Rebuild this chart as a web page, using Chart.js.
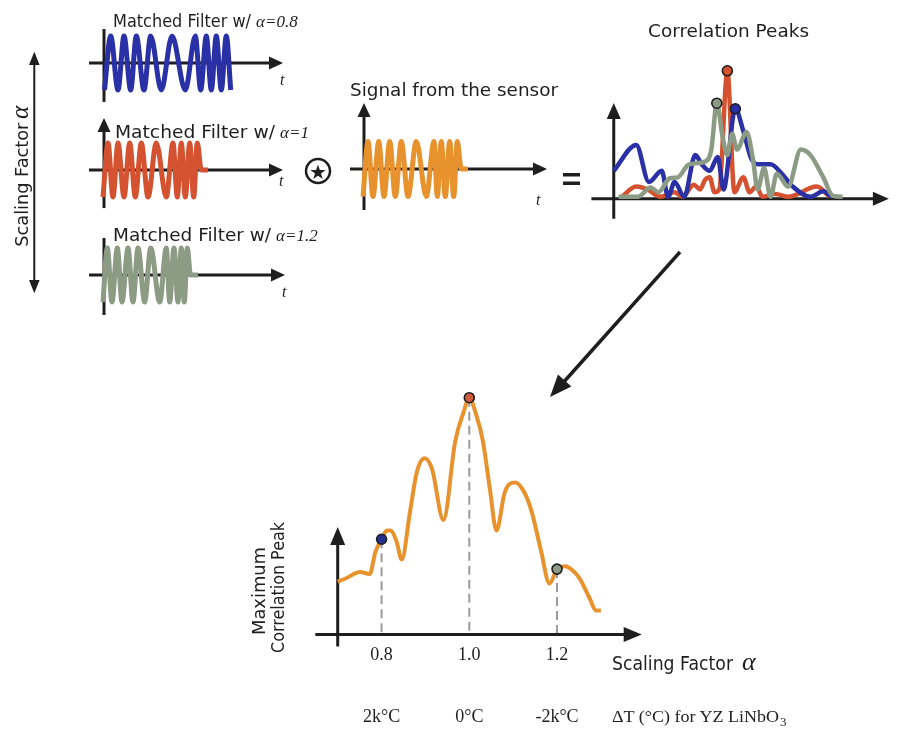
<!DOCTYPE html>
<html>
<head>
<meta charset="utf-8">
<script src="https://cdn.jsdelivr.net/npm/chart.js@4.4.1/dist/chart.umd.min.js"></script>
<style>
  html, body { margin: 0; padding: 0; background: #fff; }
  #stage { position: relative; width: 906px; height: 733px; overflow: hidden; background: #fff; }
  #stage canvas { position: absolute; }
  #overlay { position: absolute; left: 0; top: 0; pointer-events: none; }
  .sans { font-family: "DejaVu Sans", sans-serif; fill: #1e1e1e; }
  .serif { font-family: "Liberation Serif", "Times New Roman", serif; fill: #1e1e1e; }
</style>
</head>
<body>
<div id="stage">
  <canvas id="blueChart"></canvas>
  <canvas id="redChart"></canvas>
  <canvas id="greenChart"></canvas>
  <canvas id="sensorChart"></canvas>
  <canvas id="corrChart"></canvas>
  <canvas id="mainChart"></canvas>

  <svg id="overlay" width="906" height="733">
    <!-- left double arrow -->
    <line x1="34.3" y1="62" x2="34.3" y2="283" stroke="#1e1e1e" stroke-width="2"/>
    <polygon points="34.3,51.7 29,65 39.6,65" fill="#1e1e1e"/>
    <polygon points="34.3,293.3 29,280 39.6,280" fill="#1e1e1e"/>
    <text class="sans" font-size="17" transform="translate(28,246.7) rotate(-90)" textLength="124" lengthAdjust="spacingAndGlyphs">Scaling Factor</text>
    <text class="serif" font-size="25" font-style="italic" transform="translate(28,119) rotate(-90)">α</text>

    <!-- filter titles -->
    <text class="sans" x="113" y="27" font-size="17" textLength="138" lengthAdjust="spacingAndGlyphs">Matched Filter w/</text>
    <text class="serif" x="256" y="27" font-size="17" font-style="italic">α=0.8</text>
    <text class="sans" x="115" y="138" font-size="17" textLength="160" lengthAdjust="spacingAndGlyphs">Matched Filter w/</text>
    <text class="serif" x="280" y="138" font-size="17" font-style="italic">α=1</text>
    <text class="sans" x="113" y="241" font-size="17" textLength="158" lengthAdjust="spacingAndGlyphs">Matched Filter w/</text>
    <text class="serif" x="276" y="241" font-size="17" font-style="italic">α=1.2</text>

    <text class="serif" x="280" y="85" font-size="16" font-style="italic">t</text>
    <text class="serif" x="279" y="186" font-size="16" font-style="italic">t</text>
    <text class="serif" x="282" y="297" font-size="16" font-style="italic">t</text>
    <text class="serif" x="536" y="205" font-size="16" font-style="italic">t</text>

    <!-- convolution and equals -->
    <circle cx="318" cy="171" r="12" fill="none" stroke="#1e1e1e" stroke-width="2.5"/>
    <text class="sans" x="318" y="178.5" font-size="20" text-anchor="middle">★</text>
    <rect x="563" y="173" width="17" height="3.5" fill="#1e1e1e"/>
    <rect x="563" y="181.5" width="17" height="3.5" fill="#1e1e1e"/>

    <text class="sans" x="350" y="96" font-size="17" textLength="208" lengthAdjust="spacingAndGlyphs">Signal from the sensor</text>
    <text class="sans" x="648" y="37" font-size="17" textLength="161" lengthAdjust="spacingAndGlyphs">Correlation Peaks</text>

    <!-- big arrow -->
    <line x1="680" y1="252" x2="562" y2="384" stroke="#1e1e1e" stroke-width="3.5"/>
    <polygon points="550,397 571.4,386.6 558,374.6" fill="#1e1e1e"/>

    <!-- bottom chart titles -->
    <text class="sans" font-size="17" transform="translate(265,635) rotate(-90)" textLength="88" lengthAdjust="spacingAndGlyphs">Maximum</text>
    <text class="sans" font-size="17" transform="translate(284,653) rotate(-90)" textLength="131" lengthAdjust="spacingAndGlyphs">Correlation Peak</text>
    <text class="sans" x="612" y="670" font-size="19" textLength="121" lengthAdjust="spacingAndGlyphs">Scaling Factor</text>
    <text class="serif" x="742" y="670" font-size="26" font-style="italic">α</text>
    <text class="serif" x="612" y="722" font-size="17" textLength="167" lengthAdjust="spacingAndGlyphs">ΔT (°C) for YZ LiNbO</text>
    <text class="serif" x="780" y="726" font-size="13">3</text>
  </svg>
</div>

<script>
// matched filter waveforms: time of each crest/trough (t=0 at the vertical axis), normalised amplitude
const blueT = [0.5, 6.7, 14, 20, 26.7, 32.3, 40, 46.7, 57.3, 68, 81.3, 91.3, 96.7, 102.3, 107.3, 112.3, 117.3, 122.3, 126.7];
const blueV = [-1, 1, -1, 1, -1, 1, -1, 1, -1, 1, -1, 1, -1, 1, -1, 1, -1, 1, -1];

const redT = [-1, 4, 9, 14, 20, 25.7, 31.3, 37.3, 44, 52.3, 62.3, 69, 73.3, 77.3, 81.3, 85.7, 89.7, 93.3, 97.3, 104];
const redV = [-1, 1, -1, 1, -1, 1, -1, 1, -1, 1, -1, 1, -1, 1, -1, 1, -1, 1, 0, 0];

const greenT = [-1, 3.3, 8, 13.3, 18, 24, 29, 34, 40.7, 46.7, 55.7, 62.3, 65.7, 70, 74, 77.3, 80.3, 83.3, 86.5, 94];
const greenV = [-1, 1, -1, 1, -1, 1, -1, 1, -1, 1, -1, 1, -1, 1, -1, 1, -1, 1, 0, 0];

const sensorT = [-1, 4, 9, 14.7, 20, 25.7, 31.3, 37.3, 44, 52.3, 62.3, 70, 73.3, 77.3, 81.3, 85.7, 89.7, 93.3, 97.3, 104];
const sensorV = [-1, 1, -1, 1, -1, 1, -1, 1, -1, 1, -1, 1, -1, 1, -1, 1, -1, 1, 0, 0];

// correlation outputs (lag, amplitude)
const corrBlueT = [0, 23.4, 36.7, 50, 56.7, 63.4, 73.4, 85, 91.7, 100, 108.4, 114.4, 126.7, 135, 143.4, 151.7, 163.4, 175, 186.7, 205, 218.4, 226.7];
const corrBlueV = [30, 58, 18, 30, 2, 18, 2, 47, 37, 30, 45, 10, 97, 73, 43, 37, 37, 27, 13, 2, 8, 2];

const corrRedT = [8.4, 23.4, 35, 48.4, 63.4, 71.7, 83.4, 90, 95, 100, 105, 110, 118.4, 125.7, 135, 141.7, 148.4, 155, 168.4, 181.7, 211.7, 225];
const corrRedV = [2, 13, 10, 2, 7, 2, 15, 10, 20, 23, 7, 10, 138, 7, 23, 7, 13, 2, 5, 2, 13, 2];

const corrGreyT = [5, 25, 38.4, 46.7, 58.4, 66.7, 78.4, 95, 101.7, 107.4, 113.4, 118.4, 123.4, 128.4, 138.4, 145, 150, 156.7, 163.4, 170, 181.7, 195, 205, 218.4, 228.4, 238.4];
const corrGreyV = [2, 2, 12, 7, 22, 23, 37, 40, 53, 103, 67, 47, 70, 53, 72, 43, 10, 33, 2, 27, 13, 53, 47, 23, 3, 2];

const corrPeakT = [118.4, 107.4, 126.7];
const corrPeakV = [138, 103, 97];

// maximum correlation peak vs scaling factor
const alphaVals = [0.70, 0.717, 0.751, 0.773, 0.786, 0.80, 0.812, 0.820, 0.834, 0.846, 0.865, 0.88, 0.898, 0.915, 0.941,
                   0.968, 0.987, 1.0, 1.014, 1.031, 1.047, 1.062, 1.081, 1.105, 1.125, 1.142, 1.163, 1.183,
                   1.20, 1.219, 1.237, 1.252, 1.274, 1.289, 1.30];
const peakVals = [55, 58, 65, 63, 86, 99, 108, 108, 97, 78, 128, 168, 183, 172, 119,
                  201, 231, 246, 231, 201, 151, 108, 148, 158, 148, 128, 88, 53,
                  68, 71, 66, 58, 38, 25, 25];

const markAlpha = [0.8, 1.0, 1.2];
const markPeak = [99, 246, 68];

const alphaTicks = [0.8, 1.0, 1.2];
const alphaTickLabels = ['0.8', '1.0', '1.2'];
const tempLabels = ['2k°C', '0°C', '-2k°C'];

const BLUE = '#2a30a6', RED = '#d4522f', GREY = '#8c9b83', ORANGE = '#e8922e', INK = '#1e1e1e';

// axes with arrow heads, drop lines and tick text, all in data units
const arrowAxes = {
  id: 'arrowAxes',
  beforeDatasetsDraw(chart, args, o) {
    const ctx = chart.ctx, xs = chart.scales.x, ys = chart.scales.y;
    const px = v => xs.getPixelForValue(v), py = v => ys.getPixelForValue(v);
    (o.drops || []).forEach(d => {
      ctx.save();
      ctx.strokeStyle = d.color; ctx.lineWidth = d.width; ctx.setLineDash(d.dash);
      d.xs.forEach((xv, i) => {
        ctx.beginPath();
        ctx.moveTo(px(xv), py(d.ys[i]));
        ctx.lineTo(px(xv), py(d.to));
        ctx.stroke();
      });
      ctx.restore();
    });
    (o.lines || []).forEach(l => {
      const x1 = px(l.from[0]), y1 = py(l.from[1]), x2 = px(l.to[0]), y2 = py(l.to[1]);
      const a = Math.atan2(y2 - y1, x2 - x1), c = Math.cos(a), s = Math.sin(a);
      const hl = l.head ? (l.headLen || 14) : 0, hw = l.headW || 6;
      ctx.save();
      ctx.strokeStyle = INK; ctx.fillStyle = INK; ctx.lineWidth = l.width || 3;
      ctx.beginPath();
      ctx.moveTo(x1, y1);
      ctx.lineTo(x2 - c * hl * 0.8, y2 - s * hl * 0.8);
      ctx.stroke();
      if (l.head) {
        ctx.beginPath();
        ctx.moveTo(x2, y2);
        ctx.lineTo(x2 - hl * c - hw * s, y2 - hl * s + hw * c);
        ctx.lineTo(x2 - hl * c + hw * s, y2 - hl * s - hw * c);
        ctx.closePath();
        ctx.fill();
      }
      ctx.restore();
    });
  },
  afterDatasetsDraw(chart, args, o) {
    const ctx = chart.ctx, xs = chart.scales.x, ys = chart.scales.y;
    (o.labels || []).forEach(lb => {
      ctx.save();
      ctx.font = lb.font; ctx.fillStyle = INK; ctx.textAlign = 'center'; ctx.textBaseline = 'alphabetic';
      lb.values.forEach((v, i) => ctx.fillText(lb.texts[i], xs.getPixelForValue(v), ys.getPixelForValue(0) + lb.dy));
      ctx.restore();
    });
  }
};
Chart.register(arrowAxes);

// box = [left, top, w, h] on the page; xRef/yRef = [page px, value, px per unit]
function place(id, box, xRef, yRef, datasets, deco) {
  const [left, top, w, h] = box;
  const cv = document.getElementById(id);
  cv.width = w; cv.height = h;
  cv.style.left = left + 'px'; cv.style.top = top + 'px';
  cv.style.width = w + 'px'; cv.style.height = h + 'px';
  return new Chart(cv, {
    type: 'line',
    data: { datasets: datasets },
    options: {
      responsive: false,
      animation: false,
      devicePixelRatio: 1,
      events: [],
      layout: { padding: 0 },
      scales: {
        x: { type: 'linear', display: false,
             min: xRef[1] - (xRef[0] - left) / xRef[2], max: xRef[1] + (left + w - xRef[0]) / xRef[2] },
        y: { type: 'linear', display: false,
             min: yRef[1] - (top + h - yRef[0]) / yRef[2], max: yRef[1] + (yRef[0] - top) / yRef[2] }
      },
      plugins: { legend: { display: false }, tooltip: { enabled: false }, arrowAxes: deco }
    }
  });
}

function series(T, V, color, width) {
  return {
    data: T.map((t, i) => ({ x: t, y: V[i] })),
    borderColor: color, borderWidth: width,
    cubicInterpolationMode: 'monotone',
    pointRadius: 0, fill: false, clip: false
  };
}

function dots(T, V, colors) {
  return {
    data: T.map((t, i) => ({ x: t, y: V[i] })),
    showLine: false, pointRadius: 5, pointBorderWidth: 1.6,
    pointBackgroundColor: colors, pointBorderColor: INK, clip: false
  };
}

const waveAxis = (lo, hi, vlo, vhi, vHead) => [
  { from: [lo, 0], to: [hi, 0], head: true, headLen: 14, headW: 6.5, width: 3 },
  { from: [0, vlo], to: [0, vhi], head: vHead, headLen: 14, headW: 6.5, width: 3 }
];

place('blueChart', [80, 22, 215, 88], [104, 0, 1], [63, 0, 27],
  [series(blueT, blueV, BLUE, 5)], { lines: waveAxis(-15, 179, -1.44, 1.26, false) });

place('redChart', [80, 112, 215, 102], [104, 0, 1], [170, 0, 27],
  [series(redT, redV, RED, 5)], { lines: waveAxis(-15, 179, -1.41, 1.93, true) });

place('greenChart', [80, 234, 215, 86], [104, 0, 1], [275, 0, 27],
  [series(greenT, greenV, GREY, 5)], { lines: waveAxis(-15, 181, -1.48, 1.37, false) });

place('sensorChart', [340, 98, 215, 116], [364, 0, 1], [169, 0, 27.5],
  [series(sensorT, sensorV, ORANGE, 5)], { lines: waveAxis(-14, 183, -1.49, 2.4, true) });

place('corrChart', [580, 50, 326, 180], [608.3, 0, 1], [203.3, 0, 1],
  [dots(corrPeakT, corrPeakV, [RED, GREY, BLUE]),
   series(corrGreyT, corrGreyV, GREY, 4.5),
   series(corrBlueT, corrBlueV, BLUE, 4.5),
   series(corrRedT, corrRedV, RED, 4.5)],
  { lines: [
      { from: [-23.3, 0], to: [286.7, 0], head: true, headLen: 16, headW: 7, width: 3 },
      { from: [0, -21.7], to: [0, 103.3], head: true, headLen: 16, headW: 7, width: 3 }
  ] });

place('mainChart', [240, 375, 666, 358], [377.7, 0.8, 447.5], [637.7, 0, 1],
  [dots(markAlpha, markPeak, ['#23308f', '#d05a3c', '#8d9a85']),
   series(alphaVals, peakVals, ORANGE, 4)],
  { lines: [
      { from: [0.649, 0], to: [1.393, 0], head: true, headLen: 18, headW: 7.5, width: 3 },
      { from: [0.70, -12.3], to: [0.70, 111.7], head: true, headLen: 18, headW: 7.5, width: 3 }
    ],
    drops: [{ xs: markAlpha, ys: markPeak, to: 0, color: '#9a9a9a', width: 2, dash: [9, 5] }],
    labels: [
      { values: alphaTicks, texts: alphaTickLabels, dy: 25.5, font: '18px "Liberation Serif", serif' },
      { values: alphaTicks, texts: tempLabels, dy: 87, font: '18px "Liberation Serif", serif' }
    ] });
</script>
</body>
</html>
